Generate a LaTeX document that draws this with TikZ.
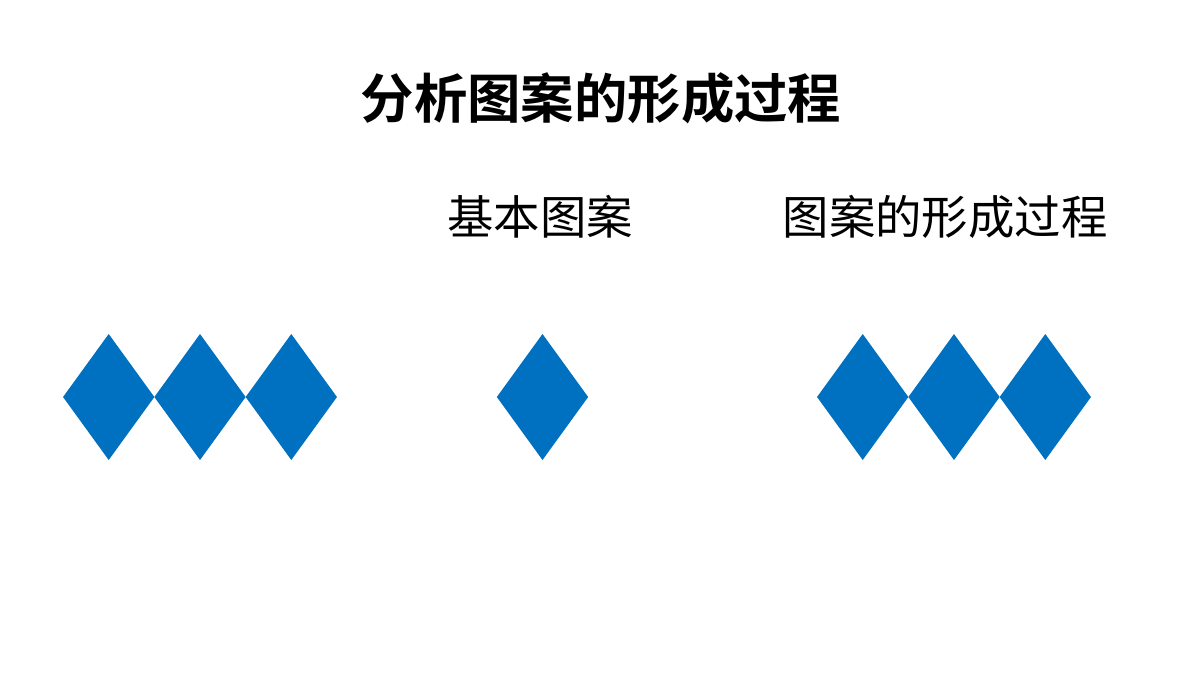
\documentclass[tikz,border=0pt]{standalone}
\usepackage{fontspec}
\newfontfamily\cjk{Noto Sans CJK SC}
\newfontfamily\cjkb{Noto Sans CJK SC Bold}
\definecolor{dblue}{HTML}{0070C0}
\begin{document}
\begin{tikzpicture}[x=0.5pt,y=-0.5pt,
  titletext/.style={font=\cjkb\fontsize{26.7}{32}\selectfont, inner sep=0pt, anchor=center},
  subtext/.style={font=\cjk\fontsize{23.2}{28}\selectfont, inner sep=0pt, anchor=center},
  rhomb/.style={fill=dblue, draw=none}]
\useasboundingbox (0,0) rectangle (1200,675);
\fill[white] (0,0) rectangle (1200,675);
\node[titletext] (title) at (601,98) {分析图案的形成过程};
\node[subtext] (basic) at (540,217) {基本图案};
\node[subtext] (process) at (945,217) {图案的形成过程};
\foreach \cx in {108.7,200,291.3,542.5,862.7,954,1045.3}{
  \fill[rhomb] (\cx-45.65,397) -- (\cx,334) -- (\cx+45.65,397) -- (\cx,460) -- cycle;
}
\end{tikzpicture}
\end{document}
